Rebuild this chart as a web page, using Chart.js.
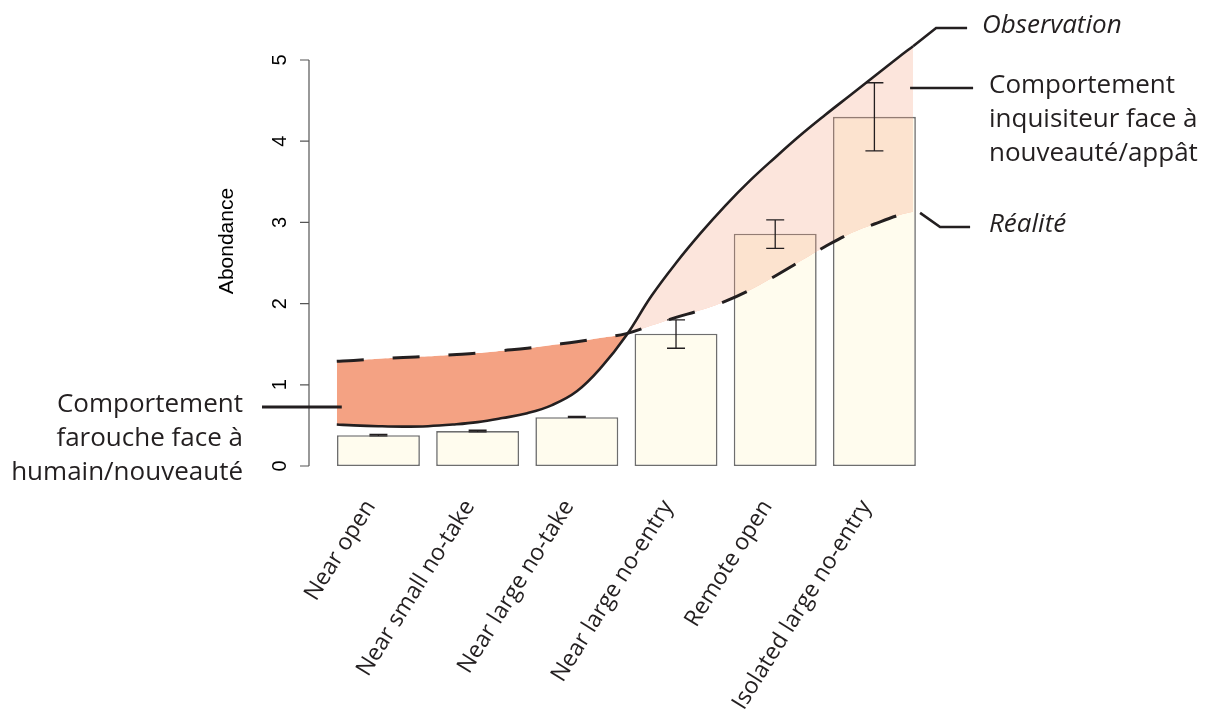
<!DOCTYPE html>
<html>
<head>
<meta charset="utf-8">
<script src="https://cdn.jsdelivr.net/npm/chart.js@4/dist/chart.umd.min.js"></script>
<style>
  html, body { margin: 0; padding: 0; background: #ffffff; }
  #wrap { width: 1211px; height: 722px; position: relative; }
</style>
</head>
<body>
<div id="wrap"><canvas id="c" width="1211" height="722"></canvas></div>
<script>
// ---- data ----
const categories = ["Near open", "Near small no-take", "Near large no-take", "Near large no-entry", "Remote open", "Isolated large no-entry"];
const barValues = [0.38, 0.43, 0.60, 1.63, 2.86, 4.30];
const errLow    = [0.37, 0.42, 0.60, 1.45, 2.68, 3.88];
const errHigh   = [0.39, 0.44, 0.61, 1.80, 3.03, 4.72];
const curveX      = [-0.42, -0.25, 0, 0.25, 0.5, 0.75, 1, 1.25, 1.5, 1.75, 2, 2.25, 2.5, 2.75, 3, 3.25, 3.5, 3.75, 4, 4.25, 4.5, 4.75, 5, 5.25, 5.39];
const observation = [0.51, 0.50, 0.49, 0.485, 0.49, 0.51, 0.54, 0.59, 0.65, 0.75, 0.92, 1.22, 1.61, 2.09, 2.50, 2.87, 3.21, 3.52, 3.80, 4.07, 4.32, 4.56, 4.80, 5.04, 5.17];
const realite     = [1.29, 1.30, 1.32, 1.335, 1.35, 1.37, 1.39, 1.42, 1.45, 1.49, 1.53, 1.58, 1.63, 1.73, 1.83, 1.92, 2.03, 2.17, 2.34, 2.52, 2.70, 2.86, 2.98, 3.09, 3.13];
const yTicks = [0, 1, 2, 3, 4, 5];
const yTitle = "Abondance";
const labelObservation = "Observation";
const labelRealite = "Réalité";
const labelCurious = ["Comportement", "inquisiteur face à", "nouveauté/appât"];
const labelShy = ["Comportement", "farouche face à", "humain/nouveauté"];

const INK = '#231f20';

const yAxisPlugin = {
  id: 'rAxis',
  afterDraw(chart) {
    const ctx = chart.ctx, y = chart.scales.y;
    const ax = 309;
    ctx.save();
    ctx.strokeStyle = '#555';
    ctx.lineWidth = 1.2;
    ctx.beginPath();
    ctx.moveTo(ax, y.getPixelForValue(yTicks[0]));
    ctx.lineTo(ax, y.getPixelForValue(yTicks[yTicks.length - 1]));
    yTicks.forEach(v => {
      const py = y.getPixelForValue(v);
      ctx.moveTo(ax, py); ctx.lineTo(ax - 9, py);
    });
    ctx.stroke();
    ctx.fillStyle = '#000';
    ctx.font = '20px "Liberation Sans", Arial, sans-serif';
    ctx.textAlign = 'center';
    ctx.textBaseline = 'middle';
    yTicks.forEach(v => {
      const py = y.getPixelForValue(v);
      ctx.save();
      ctx.translate(280, py);
      ctx.rotate(-Math.PI / 2);
      ctx.fillText(String(v), 0, 0);
      ctx.restore();
    });
    ctx.save();
    ctx.font = '21px "Liberation Sans", Arial, sans-serif';
    ctx.translate(227, 241);
    ctx.rotate(-Math.PI / 2);
    ctx.fillText(yTitle, 0, 0);
    ctx.restore();
    ctx.restore();
  }
};

const errorBarPlugin = {
  id: 'errBars',
  afterDatasetsDraw(chart) {
    const ctx = chart.ctx, x = chart.scales.x, y = chart.scales.y;
    ctx.save();
    ctx.strokeStyle = INK;
    ctx.lineWidth = 1.3;
    categories.forEach((c, i) => {
      const px = x.getPixelForValue(i);
      const lo = y.getPixelForValue(errLow[i]);
      const hi = y.getPixelForValue(errHigh[i]);
      ctx.beginPath();
      ctx.moveTo(px, lo); ctx.lineTo(px, hi);
      ctx.moveTo(px - 9, lo); ctx.lineTo(px + 9, lo);
      ctx.moveTo(px - 9, hi); ctx.lineTo(px + 9, hi);
      ctx.stroke();
    });
    ctx.restore();
  }
};

const annotPlugin = {
  id: 'annot',
  afterDraw(chart) {
    const ctx = chart.ctx, x = chart.scales.x, y = chart.scales.y;
    const n = curveX.length - 1;
    const ex = x.getPixelForValue(curveX[n]);
    const eyObs = y.getPixelForValue(observation[n]);
    const eyReal = y.getPixelForValue(realite[n]);
    const sx = x.getPixelForValue(curveX[0]);
    ctx.save();
    ctx.strokeStyle = INK;
    ctx.lineWidth = 2.6;
    ctx.lineCap = 'butt';
    // Observation leader
    ctx.beginPath();
    ctx.moveTo(ex, eyObs);
    ctx.lineTo(ex + 23, 28);
    ctx.lineTo(ex + 54, 28);
    ctx.stroke();
    // Curious leader
    ctx.beginPath();
    ctx.moveTo(ex - 3, 88);
    ctx.lineTo(ex + 60, 88);
    ctx.stroke();
    // Réalité leader
    ctx.beginPath();
    ctx.moveTo(ex + 7, eyReal + 1);
    ctx.lineTo(ex + 27, 227);
    ctx.lineTo(ex + 57, 227);
    ctx.stroke();
    // Shy leader
    ctx.beginPath();
    ctx.lineWidth = 3;
    ctx.moveTo(262, 407);
    ctx.lineTo(sx + 5, 407);
    ctx.stroke();

    ctx.fillStyle = INK;
    ctx.textBaseline = 'alphabetic';
    ctx.textAlign = 'left';
    ctx.font = 'italic 26px "Open Sans", "Noto Sans", sans-serif';
    ctx.fillText(labelObservation, 982, 33);
    ctx.fillText(labelRealite, 989, 232);
    ctx.font = '26px "Open Sans", "Noto Sans", sans-serif';
    labelCurious.forEach((t, i) => ctx.fillText(t, 989, 93 + i * 34));
    ctx.textAlign = 'right';
    labelShy.forEach((t, i) => ctx.fillText(t, 243, 412 + i * 34));
    ctx.restore();
  }
};

new Chart(document.getElementById('c'), {
  type: 'bar',
  data: {
    datasets: [
      {
        type: 'line',
        label: labelObservation,
        data: curveX.map((v, i) => ({ x: v, y: observation[i] })),
        borderColor: INK,
        borderWidth: 2.6,
        pointRadius: 0,
        tension: 0.4,
        fill: { target: 1, above: 'rgba(244,162,131,0.28)', below: '#F4A283' },
        order: 1
      },
      {
        type: 'line',
        label: labelRealite,
        data: curveX.map((v, i) => ({ x: v, y: realite[i] })),
        borderColor: INK,
        borderWidth: 3,
        borderDash: [27, 29],
        pointRadius: 0,
        tension: 0.4,
        fill: false,
        order: 0
      },
      {
        type: 'bar',
        label: 'Abondance',
        data: categories.map((c, i) => ({ x: i, y: barValues[i] })),
        backgroundColor: '#FFFCEE',
        borderColor: '#6E6E6E',
        borderWidth: 1.6,
        borderSkipped: false,
        barPercentage: 0.836,
        categoryPercentage: 1,
        order: 5
      }
    ]
  },
  options: {
    responsive: false,
    animation: false,
    layout: { padding: { left: 309, right: 287, top: 19.4, bottom: 0 } },
    plugins: { legend: { display: false }, tooltip: { enabled: false } },
    scales: {
      x: {
        type: 'linear',
        min: -0.7,
        max: 5.5,
        offset: false,
        grid: { display: false },
        border: { display: false },
        afterBuildTicks: s => { s.ticks = categories.map((c, i) => ({ value: i })); },
        afterFit: s => { s.height = 247.9; },
        ticks: {
          autoSkip: false,
          minRotation: 58,
          maxRotation: 58,
          padding: 13,
          labelOffset: -8,
          color: INK,
          font: { family: '"Open Sans", "Noto Sans", sans-serif', size: 23 },
          callback: v => categories[v]
        }
      },
      y: {
        display: false,
        min: -0.1,
        max: 5.5
      }
    }
  },
  plugins: [yAxisPlugin, errorBarPlugin, annotPlugin]
});
</script>
</body>
</html>
